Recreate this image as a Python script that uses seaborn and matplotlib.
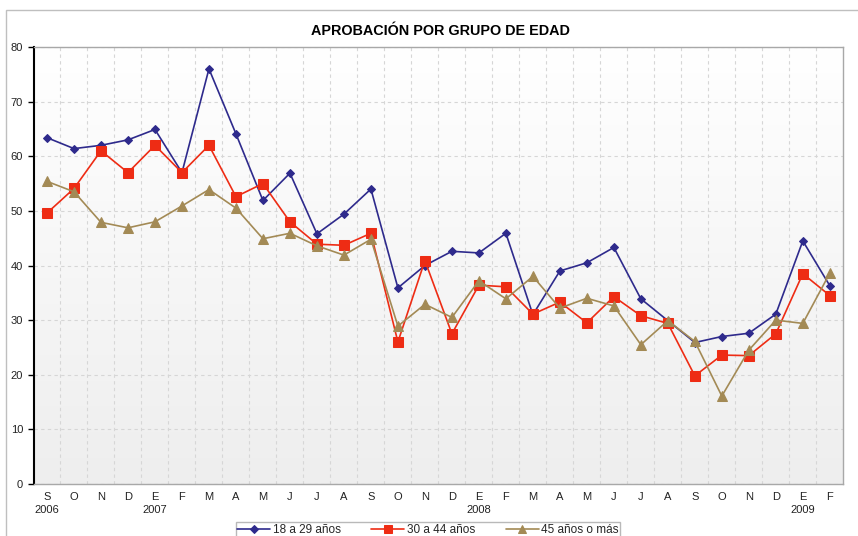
import numpy as np
import pandas as pd
import matplotlib.pyplot as plt
import seaborn as sns
from matplotlib.patches import Rectangle

# Data
meses = ["S", "O", "N", "D", "E", "F", "M", "A", "M", "J", "J", "A", "S", "O", "N", "D",
         "E", "F", "M", "A", "M", "J", "J", "A", "S", "O", "N", "D", "E", "F"]
anios = {0: "2006", 4: "2007", 16: "2008", 28: "2009"}

grupo_18_29 = [63.4, 61.4, 62.0, 63.0, 64.9, 57.0, 76.0, 64.1, 51.9, 56.9, 45.8, 49.4, 54.0, 35.9, 40.0,
               42.6, 42.3, 45.9, 31.0, 39.0, 40.5, 43.3, 33.9, 29.9, 25.9, 27.0, 27.6, 31.1, 44.5, 36.3]
grupo_30_44 = [49.6, 54.1, 61.0, 57.0, 62.0, 57.0, 62.0, 52.6, 55.0, 48.0, 43.9, 43.7, 45.9, 26.0, 40.9,
               27.5, 36.4, 36.1, 31.1, 33.3, 29.5, 34.3, 30.8, 29.4, 19.8, 23.6, 23.5, 27.5, 38.5, 34.5]
grupo_45_mas = [55.4, 53.5, 47.9, 46.9, 48.0, 50.9, 53.9, 50.5, 44.9, 45.9, 43.6, 41.9, 44.8, 28.9, 32.9,
                30.5, 37.2, 33.9, 38.0, 32.2, 34.0, 32.6, 25.5, 29.9, 26.1, 16.1, 24.5, 30.0, 29.4, 38.6]

series = ["18 a 29 años", "30 a 44 años", "45 años o más"]
colores = ["#2e2a8c", "#ee2c14", "#a38a55"]
marcadores = ["D", "s", "^"]
tam = [4.5, 6.5, 6.5]

idx = np.arange(len(meses))
df = pd.concat([
    pd.DataFrame({"mes": idx, "valor": v, "grupo": g})
    for g, v in zip(series, [grupo_18_29, grupo_30_44, grupo_45_mas])
])

sns.set_style("white")
plt.rcParams["font.family"] = ["Liberation Sans", "DejaVu Sans"]

fig = plt.figure(figsize=(8.58, 5.36), dpi=100)
ax = fig.add_axes([33.5 / 858, 1 - 484 / 536, (843.3 - 33.5) / 858, (484 - 47) / 536])

# outer frame
fig.patches.append(Rectangle((5.5 / 858, -0.1), 2, 1 - 9.5 / 536 + 0.1, transform=fig.transFigure,
                             fill=False, edgecolor="#bfbfbf", linewidth=1, zorder=0))

# background gradient
grad = np.linspace(1, 0, 256).reshape(-1, 1)
ax.imshow(grad, extent=[-0.5, 29.5, 0, 80], aspect="auto", cmap=plt.matplotlib.colors.LinearSegmentedColormap.from_list(
    "bg", ["#eeeeee", "#ffffff"]), vmin=0, vmax=1, zorder=0, origin="upper")

for g, c, m, s in zip(series, colores, marcadores, tam):
    sns.lineplot(data=df[df["grupo"] == g], x="mes", y="valor", color=c, marker=m, markersize=s,
                 markeredgecolor=c, linewidth=1.2, ax=ax, label=g, zorder=3)

ax.set_xlim(-0.5, 29.5)
ax.set_ylim(0, 80)
ax.set_yticks(range(0, 81, 10))
ax.set_xticks(idx)
ax.set_xticklabels([m + ("\n" + anios[i] if i in anios else "\n") for i, m in enumerate(meses)],
                   fontsize=8, color="#222222", linespacing=1.3)
ax.tick_params(axis="y", labelsize=8, labelcolor="#222222", length=4, width=1, color="black", left=True)
ax.tick_params(axis="x", length=0, pad=6)
ax.set_xticks(np.arange(0.5, 29, 1), minor=True)
ax.grid(False)
ax.xaxis.grid(True, which="minor", linestyle=(0, (3, 3)), color="#d6d6d6", linewidth=0.8)
ax.yaxis.grid(True, which="major", linestyle=(0, (3, 3)), color="#d6d6d6", linewidth=0.8)
ax.set_axisbelow(True)
ax.set_xlabel("")
ax.set_ylabel("")

for side in ["top", "right", "bottom"]:
    ax.spines[side].set_color("#a8a8a8")
    ax.spines[side].set_linewidth(1)
ax.spines["left"].set_color("black")
ax.spines["left"].set_linewidth(1.5)

fig.text(440 / 858, 1 - 31 / 536, "APROBACIÓN POR GRUPO DE EDAD", ha="center", va="center",
         fontsize=10.4, fontweight="bold", color="black")

leg = ax.legend(loc="upper center", bbox_to_anchor=(428 / 858, 1 - 516 / 536), bbox_transform=fig.transFigure,
                ncol=3, frameon=True, fancybox=False, fontsize=8.5, handlelength=2.8, columnspacing=2.6,
                borderpad=0.15, handletextpad=0.2, markerscale=0.8)
leg.get_frame().set_edgecolor("#a8a8a8")
leg.get_frame().set_linewidth(1)

fig.savefig("out.png", dpi=100)
